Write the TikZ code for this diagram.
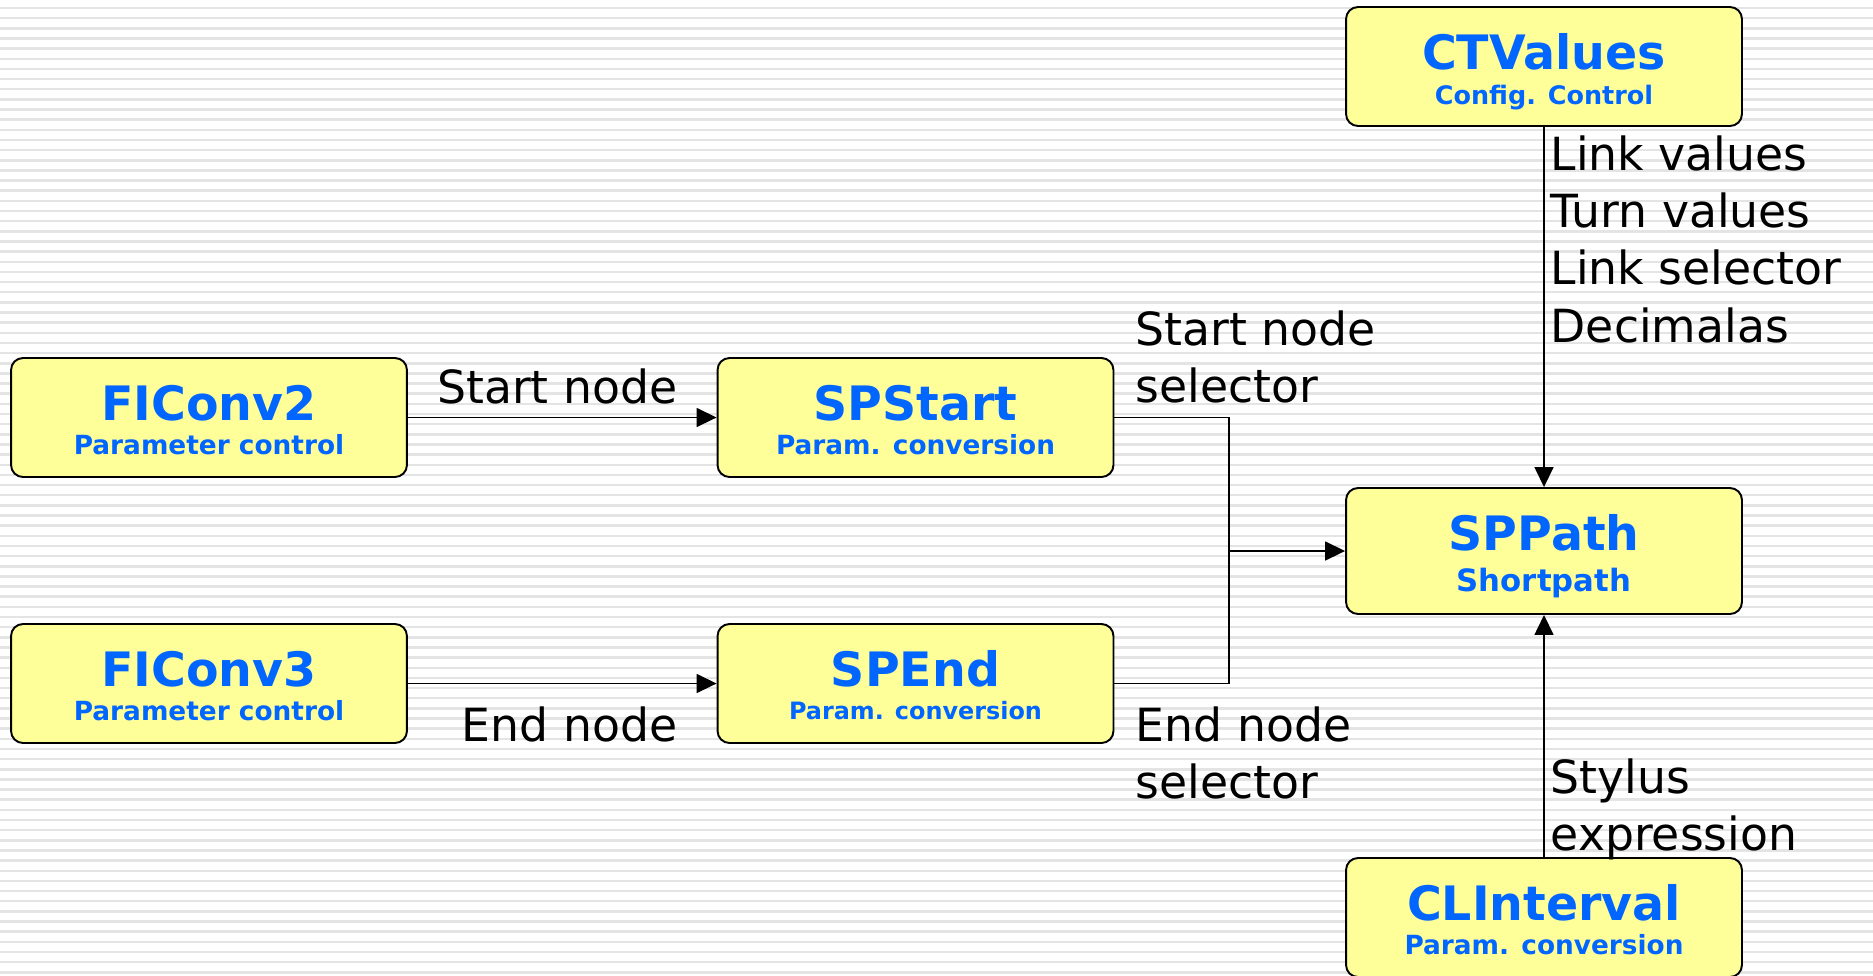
\documentclass[tikz,border=0pt]{standalone}
\usepackage{fontspec}
\setmainfont{DejaVu Sans}
\usetikzlibrary{calc,arrows.meta,positioning}
\definecolor{blkfill}{RGB}{255,255,153}
\definecolor{blktext}{RGB}{0,102,255}
\definecolor{stripe}{RGB}{228,228,228}

\begin{document}
\begin{tikzpicture}[x=0.02cm,y=-0.02cm,line width=0.9pt,
    blk/.style={draw,line width=1.1pt,rounded corners=0.24cm,fill=blkfill,minimum width=7.92cm},
    ttl/.style={anchor=base,inner sep=0pt,text=blktext,font=\bfseries\fontsize{27}{27}\selectfont},
    sub/.style={anchor=base,inner sep=0pt,text=blktext},
    lbl/.style={inner sep=0pt,align=left,font=\fontsize{26}{32}\selectfont},
    arr/.style={-{Triangle[length=0.4cm,width=0.38cm]}}]
    \clip (0,0) rectangle (1873,975);
    \fill[white] (0,0) rectangle (1873,975);
    % background stripes
    \foreach \k in {0,...,95}
    \draw[stripe,line width=0.05cm] (0,8+10.15*\k)--(1873,8+10.15*\k);
    % blocks
    \foreach \n/\x/\y/\h/\t/\s/\f/\b in {
        fic2/209/417.5/119/FIConv2/Parameter control/15/97,
        fic3/209/683.5/119/FIConv3/Parameter control/15/97,
        spstart/915.5/417.5/119/SPStart/Param. conversion/15/97,
        spend/915.5/683.5/119/SPEnd/Param. conversion/13.6/96,
        ctval/1544/66.5/119/CTValues/Config. Control/14.5/98,
        sppath/1544/551/126/SPPath/Shortpath/17.5/104,
        clint/1544/917.5/119/CLInterval/Param. conversion/15/97}
    {
        \node[blk,minimum height=\h*0.02cm] (\n) at (\x,\y) {};
        \node[ttl] (\n-t) at ($(\n.north)+(0,63)$) {\t};
        \node[sub,font=\bfseries\fontsize{\f}{\f}\selectfont] (\n-s) at ($(\n.north)+(0,\b)$) {\s};
    }
    % connectors
    \coordinate (jn) at (1229,551);
    \draw[arr](fic2)--(spstart);
    \draw[arr](fic3)--(spend);
    \draw(spstart.east)-|(jn)|-(spend.east);
    \draw[arr](jn)--(sppath.west);
    \draw[arr](ctval)--(sppath);
    \draw[arr](clint)--(sppath);
    % labels (base = last line)
    \node[lbl,anchor=base east] (l-start) at (678,403) {Start node};
    \node[lbl,anchor=base east] (l-end) at (678,741) {End node};
    \node[lbl,anchor=base west] (l-ssel) at (1135,402) {Start node\\selector};
    \node[lbl,anchor=base west] (l-esel) at (1135,798) {End node\\selector};
    \node[lbl,anchor=base west,font=\fontsize{26}{32.6}\selectfont] (l-ct) at (1550,342) {Link values\\Turn values\\Link selector\\Decimalas};
    \node[lbl,anchor=base west] (l-cl) at (1550,850) {Stylus\\expression};
\end{tikzpicture}
\end{document}
